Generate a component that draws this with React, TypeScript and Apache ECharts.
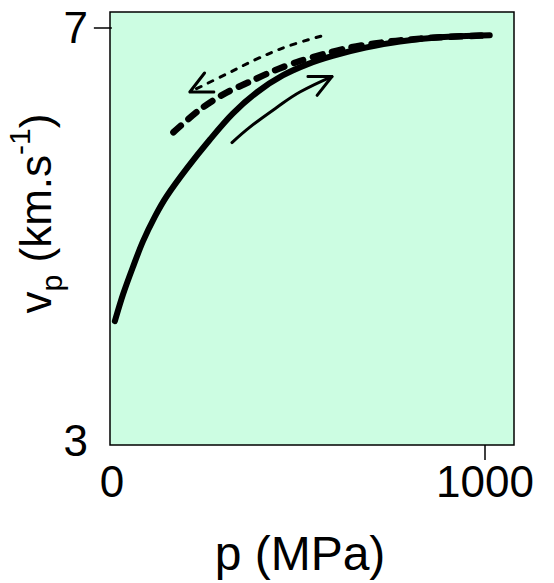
import React, { useEffect, useRef } from "react";
import * as echarts from "echarts";

// Loading path (solid) and unloading path (dashed): pressure p (MPa) vs P-wave velocity (km/s)
const loadP = [8, 30, 56, 83, 115, 147, 201, 263, 324, 390, 458, 525, 592, 680, 772, 880, 1013];
const loadV = [4.16, 4.42, 4.68, 4.93, 5.17, 5.37, 5.64, 5.92, 6.17, 6.38, 6.54, 6.65, 6.73, 6.81, 6.87, 6.91, 6.93];

const unloadP = [165, 236, 300, 370, 437, 504, 570, 638, 705, 772, 880, 1013];
const unloadV = [5.99, 6.21, 6.36, 6.48, 6.59, 6.68, 6.75, 6.81, 6.85, 6.88, 6.91, 6.93];

// Direction arrows drawn alongside the curves
const upArrowP = [322, 370, 442, 504, 590];
const upArrowV = [5.89, 6.04, 6.23, 6.38, 6.53];

const downArrowP = [560, 469, 389, 316, 209];
const downArrowV = [6.92, 6.82, 6.7, 6.57, 6.38];

const xTickLabels = [0, 1000];
const xTicks = [1000];
const yTickLabels = [3, 7];
const yTicks = [7];

const FONT = "'Liberation Sans', Arial, Helvetica, sans-serif";

const arrows = [
  { p: upArrowP, v: upArrowV, dashed: false },
  { p: downArrowP, v: downArrowV, dashed: true },
];

export default function App() {
  const ref = useRef<HTMLDivElement>(null);

  useEffect(() => {
    if (!ref.current) return;
    const chart = echarts.init(ref.current, null, { renderer: "svg" });

    const option = {
      animation: false,
      backgroundColor: "#ffffff",
      grid: {
        left: 110,
        right: 40,
        top: 12,
        bottom: 138,
        containLabel: false,
        outerBoundsMode: "none",
        show: true,
        backgroundColor: "#ccfde2",
        borderColor: "#000000",
        borderWidth: 1.5,
      },
      xAxis: {
        type: "value",
        min: -5,
        max: 1078,
        name: "p (MPa)",
        nameLocation: "middle",
        nameGap: 84,
        nameMoveOverlap: false,
        nameTextStyle: { fontFamily: FONT, fontSize: 48, color: "#000", padding: [0, 24, 0, 0] },
        axisLine: { show: false },
        splitLine: { show: false },
        axisTick: {
          show: true,
          customValues: xTicks,
          length: 15,
          lineStyle: { color: "#000", width: 1.5 },
        },
        axisLabel: {
          customValues: xTickLabels,
          formatter: (v: number) => String(v),
          fontFamily: FONT,
          fontSize: 44,
          color: "#000",
          margin: 14,
        },
      },
      yAxis: {
        type: "value",
        min: 2.96,
        max: 7.155,
        name: "{v|v}{sub|p}{v| (km.s}{sup|-1}{v|)}",
        nameLocation: "middle",
        nameRotate: 90,
        nameGap: 44,
        nameMoveOverlap: false,
        nameTextStyle: {
          fontFamily: FONT,
          color: "#000",
          padding: [0, 0, 0, 30],
          rich: {
            v: { fontFamily: FONT, fontSize: 44, color: "#000", lineHeight: 62, verticalAlign: "middle" },
            sub: { fontFamily: FONT, fontSize: 30, color: "#000", lineHeight: 30, verticalAlign: "bottom" },
            sup: { fontFamily: FONT, fontSize: 30, color: "#000", lineHeight: 30, verticalAlign: "top" },
          },
        },
        axisLine: { show: false },
        splitLine: { show: false },
        axisTick: {
          show: true,
          customValues: yTicks,
          length: 18,
          lineStyle: { color: "#000", width: 1.5 },
        },
        axisLabel: {
          customValues: yTickLabels,
          formatter: (v: number) => String(v),
          fontFamily: FONT,
          fontSize: 44,
          color: "#000",
          margin: 22,
        },
      },
      series: [
        {
          type: "line",
          data: loadP.map((p, i) => [p, loadV[i]]),
          smooth: 0.3,
          showSymbol: false,
          lineStyle: { color: "#000", width: 6, cap: "round", join: "round" },
        },
        {
          type: "line",
          data: unloadP.map((p, i) => [p, unloadV[i]]),
          smooth: 0.3,
          showSymbol: false,
          lineStyle: { color: "#000", width: 6.5, type: [10, 10], cap: "round" },
        },
        {
          type: "custom",
          data: arrows.map((_, i) => i),
          renderItem: (params: any, api: any) => {
            const a = arrows[params.dataIndex];
            const pts = a.p.map((p, i) => api.coord([p, a.v[i]]));
            const tip = pts[pts.length - 1];
            const prev = pts[pts.length - 2];
            const ang = Math.atan2(tip[1] - prev[1], tip[0] - prev[0]);
            const L = 24;
            const spread = (26 * Math.PI) / 180;
            const arm1 = [tip[0] - L * Math.cos(ang - spread), tip[1] - L * Math.sin(ang - spread)];
            const arm2 = [tip[0] - L * Math.cos(ang + spread), tip[1] - L * Math.sin(ang + spread)];
            return {
              type: "group",
              children: [
                {
                  type: "polyline",
                  shape: { points: pts, smooth: 0.4 },
                  style: {
                    stroke: "#000",
                    fill: null,
                    lineWidth: 3,
                    lineCap: "round",
                    lineDash: a.dashed ? [5, 8] : null,
                  },
                },
                {
                  type: "polyline",
                  shape: { points: [arm1, tip, arm2] },
                  style: { stroke: "#000", fill: null, lineWidth: 3, lineCap: "round", lineJoin: "round" },
                },
              ],
            };
          },
        },
      ],
    };

    chart.setOption(option as any);
    return () => chart.dispose();
  }, []);

  return <div ref={ref} style={{ width: 554, height: 583, position: "absolute", left: 0, top: 0 }} />;
}
